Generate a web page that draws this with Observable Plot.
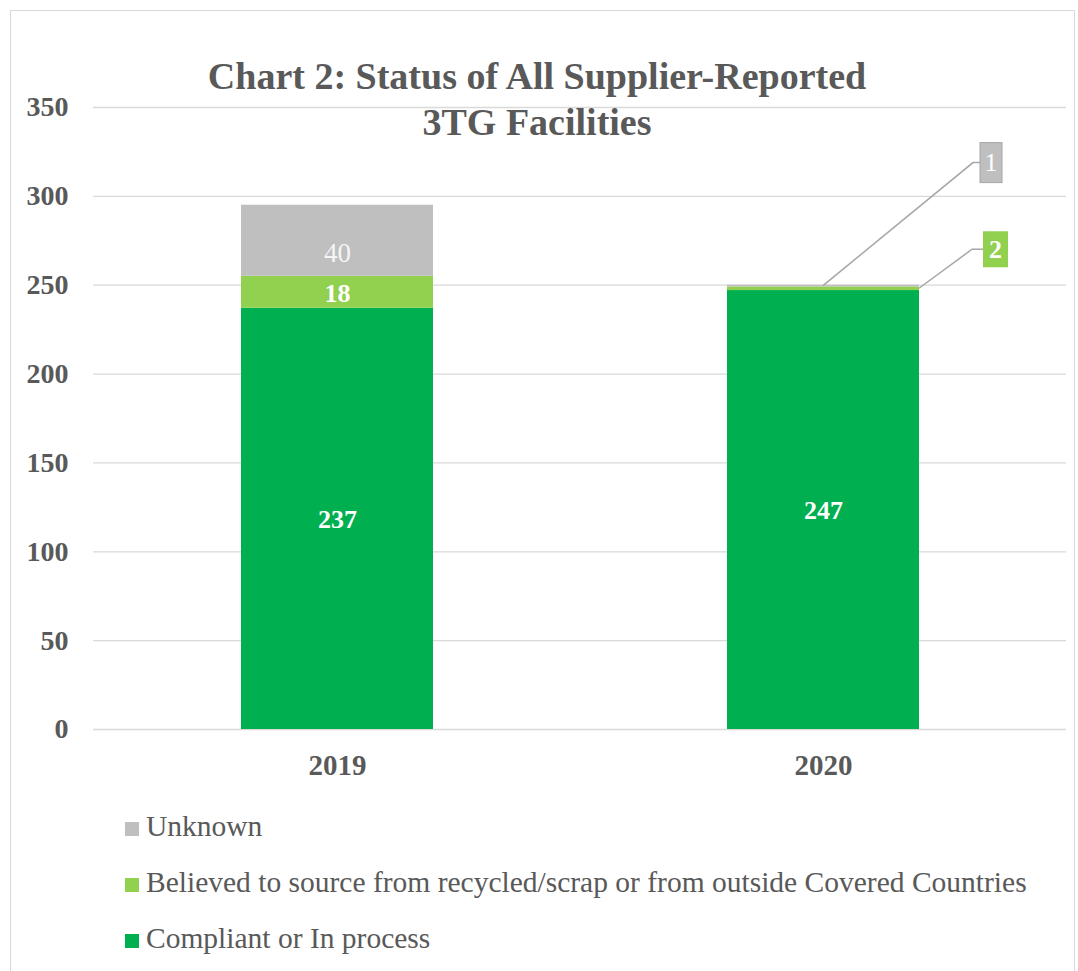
<!DOCTYPE html>
<html><head><meta charset="utf-8">
<script src="https://cdn.jsdelivr.net/npm/d3@7"></script>
<script src="https://cdn.jsdelivr.net/npm/@observablehq/plot@0.6"></script>
<style>
body{margin:0;background:#fff;}
#wrap{position:relative;width:1078px;height:971px;overflow:hidden;font-family:"Liberation Serif","Times New Roman",serif;}
#frame{position:absolute;left:10px;top:10px;width:1065px;height:1000px;border:1px solid #d9d9d9;box-sizing:border-box;}
#chart{position:absolute;left:0;top:0;}
#title{position:absolute;left:0;top:53px;width:1074px;text-align:center;font-size:38px;line-height:46px;font-weight:bold;color:#595959;}
.item{position:absolute;left:125px;height:56px;line-height:56px;font-size:29.5px;color:#595959;white-space:nowrap;}
.sw{display:inline-block;width:14px;height:14px;margin-right:7px;}
</style></head>
<body>
<div id="wrap">
  <div id="frame"></div>
  <div id="chart"></div>
  <div id="title">Chart 2: Status of All Supplier-Reported<br>3TG Facilities</div>
  <div id="legend"></div>
</div>
<script>
const years = ["2019", "2020"];
const seriesNames = [
  "Compliant or In process",
  "Believed to source from recycled/scrap or from outside Covered Countries",
  "Unknown"
];
const compliant = [237, 247];
const believed = [18, 2];
const unknown = [40, 1];
const seriesColors = ["#00b050", "#92d050", "#bfbfbf"];
const yTicks = [0, 50, 100, 150, 200, 250, 300, 350];

const seriesValues = [compliant, believed, unknown];
const rows = [];
seriesNames.forEach((s, si) => {
  years.forEach((yr, yi) => rows.push({year: yr, series: s, si, value: seriesValues[si][yi]}));
});

// inside labels: 2019 all segments, 2020 compliant
const insideBold = d => (d.si === 0 || (d.year === "2019" && d.si === 1)) ? String(d.value) : null;
const insideLight = d => (d.year === "2019" && d.si === 2) ? String(d.value) : null;

// callouts for small 2020 segments
function callouts(index, scales) {
  const x = scales.x, y = scales.y;
  const bw = x.bandwidth ? x.bandwidth() : 192;
  const specs = [
    {yi: 1, si: 2, from: "center", ex: 150, ey: -123, bx: 157, w: 22, h: 40, fill: "#bfbfbf", stroke: "#a6a6a6", weight: "normal"},
    {yi: 1, si: 1, from: "right", ex: 53, ey: -39, bx: 64, w: 25, h: 36, fill: "#92d050", stroke: "none", weight: "bold"}
  ];
  const g = d3.create("svg:g");
  for (const s of specs) {
    let lower = 0;
    for (let k = 0; k < s.si; k++) lower += seriesValues[k][s.yi];
    const v = seriesValues[s.si][s.yi];
    const py = y(lower + v / 2);
    const x0 = x(years[s.yi]);
    const px = s.from === "center" ? x0 + bw / 2 : x0 + bw;
    g.append("path")
      .attr("d", `M${px},${py}L${px + s.ex},${py + s.ey}L${px + s.bx},${py + s.ey}`)
      .attr("fill", "none").attr("stroke", "#a6a6a6").attr("stroke-width", 1.5);
    g.append("rect")
      .attr("x", px + s.bx).attr("y", py + s.ey - s.h / 2)
      .attr("width", s.w).attr("height", s.h)
      .attr("fill", s.fill).attr("stroke", s.stroke);
    g.append("text")
      .attr("x", px + s.bx + s.w / 2).attr("y", py + s.ey)
      .attr("dy", "0.34em").attr("text-anchor", "middle")
      .attr("fill", "white").attr("font-size", 26).attr("font-weight", s.weight)
      .text(String(v));
  }
  return g.node();
}

const plot = Plot.plot({
  width: 1078, height: 800,
  marginTop: 107, marginBottom: 71, marginLeft: 93, marginRight: 12,
  style: {fontFamily: "Liberation Serif, Times New Roman, serif", fontSize: "28px", color: "#595959", background: "transparent"},
  x: {domain: years, paddingInner: 0.605, paddingOuter: 0.3025, label: null},
  y: {domain: [0, 350], label: null},
  color: {domain: seriesNames, range: seriesColors},
  marks: [
    Plot.gridY(yTicks, {stroke: "#d9d9d9", strokeOpacity: 1, strokeWidth: 1.3}),
    Plot.barY(rows, Plot.stackY({x: "year", y: "value", fill: "series"})),
    Plot.axisY(yTicks, {tickSize: 0, tickPadding: 25, fill: "#595959", fontSize: 28, fontWeight: "bold", label: null}),
    Plot.axisX({tickSize: 0, tickPadding: 25, fill: "#595959", fontSize: 29, fontWeight: "bold", label: null}),
    Plot.text(rows, Plot.stackY({x: "year", y: "value", text: insideBold, fill: "white", fontSize: 26, fontWeight: "bold", dy: 1})),
    Plot.text(rows, Plot.stackY({x: "year", y: "value", text: insideLight, fill: "#f5f5f5", fontSize: 27, fontWeight: "normal", dy: 13})),
    callouts
  ]
});
document.getElementById("chart").appendChild(plot);

// legend
const legend = document.getElementById("legend");
const order = [2, 1, 0];
order.forEach((si, i) => {
  const item = document.createElement("div");
  item.className = "item";
  item.style.top = (798 + i * 56) + "px";
  const sw = document.createElement("span");
  sw.className = "sw";
  sw.style.background = seriesColors[si];
  item.appendChild(sw);
  item.appendChild(document.createTextNode(seriesNames[si]));
  legend.appendChild(item);
});
</script>
</body></html>
